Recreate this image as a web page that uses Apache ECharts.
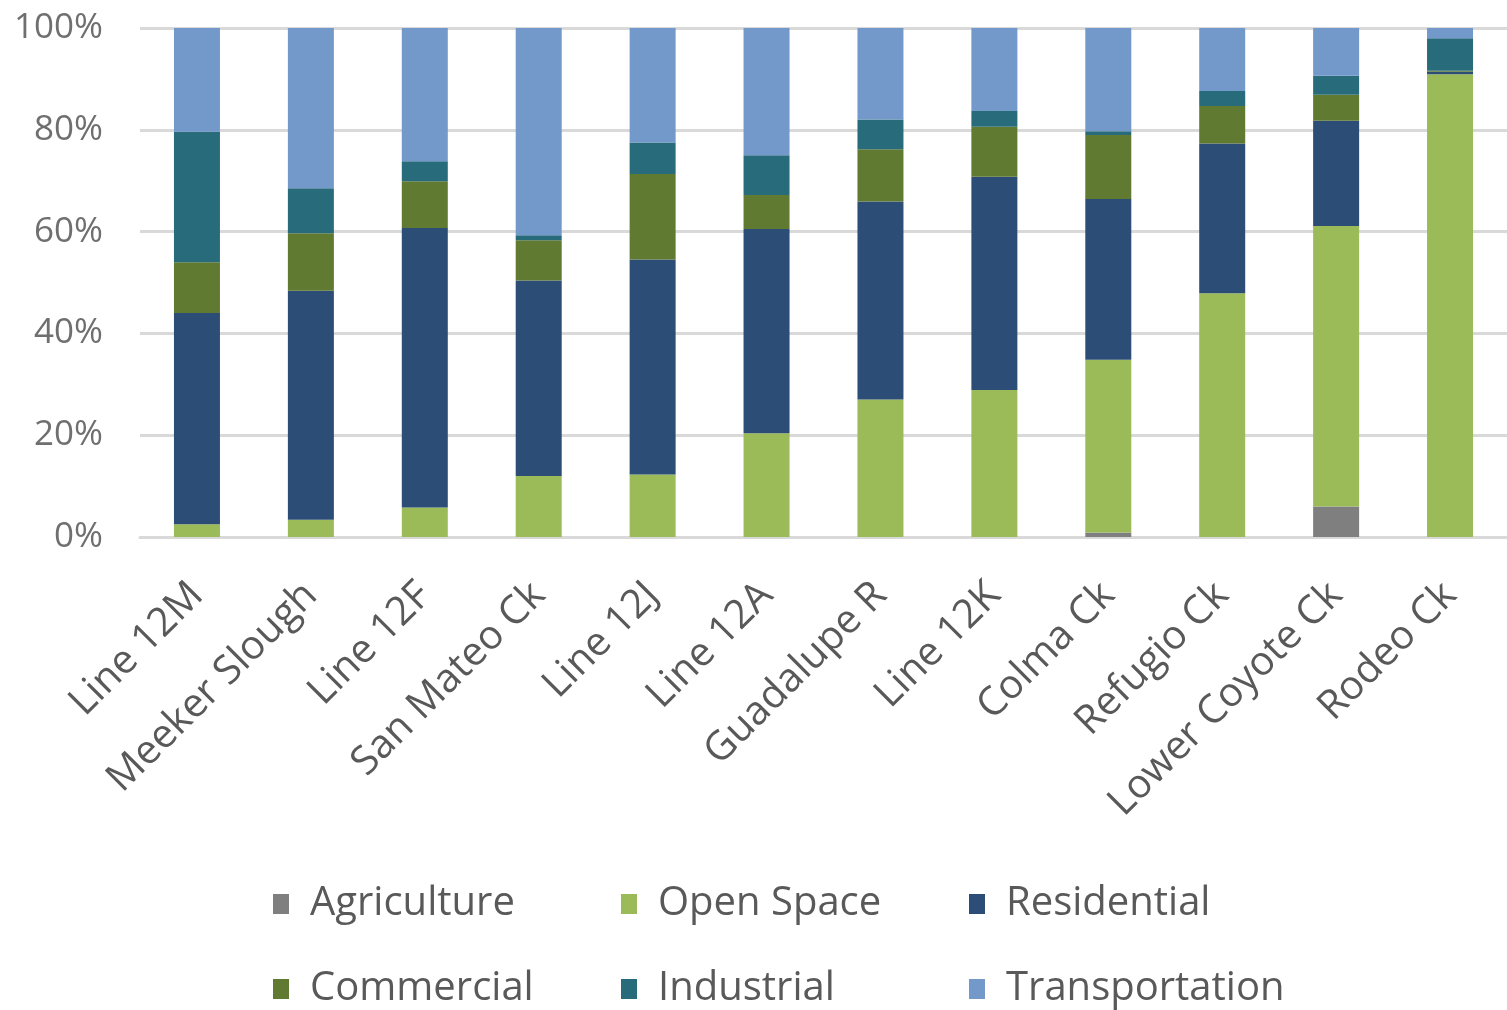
<!DOCTYPE html>
<html>
<head>
<meta charset="utf-8">
<script src="https://cdn.jsdelivr.net/npm/echarts@6/dist/echarts.min.js"></script>
<style>
  html, body { margin: 0; padding: 0; background: #ffffff; }
  #chart { width: 1507px; height: 1010px; }
</style>
</head>
<body>
<div id="chart"></div>
<script>
// Land use share (%) by watershed
const categories = ['Line 12M', 'Meeker Slough', 'Line 12F', 'San Mateo Ck', 'Line 12J', 'Line 12A',
  'Guadalupe R', 'Line 12K', 'Colma Ck', 'Refugio Ck', 'Lower Coyote Ck', 'Rodeo Ck'];

const agriculture    = [0, 0, 0, 0, 0, 0, 0, 0, 0.9, 0, 6.0, 0];
const openSpace      = [2.5, 3.4, 5.8, 12.0, 12.3, 20.4, 27.0, 28.9, 33.9, 47.9, 55.1, 90.9];
const residential    = [41.5, 45.0, 54.9, 38.4, 42.2, 40.1, 38.9, 41.9, 31.6, 29.4, 20.7, 0.5];
const commercial     = [10.0, 11.3, 9.2, 7.9, 16.8, 6.7, 10.3, 9.8, 12.6, 7.4, 5.1, 0.2];
const industrial     = [25.6, 8.8, 3.9, 1.0, 6.2, 7.8, 5.8, 3.1, 0.7, 2.9, 3.7, 6.4];
const transportation = [20.4, 31.5, 26.2, 40.7, 22.5, 25.0, 18.0, 16.3, 20.3, 12.4, 9.4, 2.0];

const yTicks = [0, 20, 40, 60, 80, 100];

const seriesDefs = [
  { name: 'Agriculture',    data: agriculture,    color: '#7f7f7f' },
  { name: 'Open Space',     data: openSpace,      color: '#9bbb59' },
  { name: 'Residential',    data: residential,    color: '#2c4d75' },
  { name: 'Commercial',     data: commercial,     color: '#617a31' },
  { name: 'Industrial',     data: industrial,     color: '#286c7c' },
  { name: 'Transportation', data: transportation, color: '#7399ca' }
];

const FONT = '"Open Sans", "Noto Sans", sans-serif';
const TEXT = '#595959';

// legend laid out as a 3 x 2 table
const legendCols = [273, 621, 969];
const legendRows = [884, 969];
const legends = seriesDefs.map((s, i) => ({
  data: [s.name],
  left: legendCols[i % 3],
  top: legendRows[Math.floor(i / 3)],
  orient: 'horizontal',
  icon: 'rect',
  itemWidth: 16,
  itemHeight: 20,
  selectedMode: false,
  padding: 0,
  textStyle: { fontFamily: FONT, fontSize: 40, color: TEXT, padding: [0, 0, 0, 16] }
}));

const chart = echarts.init(document.getElementById('chart'), null, { renderer: 'canvas' });
chart.setOption({
  backgroundColor: '#ffffff',
  animation: false,
  color: seriesDefs.map(s => s.color),
  legend: legends,
  grid: { left: 140, top: 28, width: 1385, height: 509, containLabel: false },
  xAxis: {
    type: 'category',
    data: categories,
    axisLine: { show: true, lineStyle: { color: '#d9d9d9', width: 3 } },
    axisTick: { show: false },
    axisLabel: {
      interval: 0,
      rotate: 45,
      margin: 52,
      fontFamily: FONT,
      fontSize: 40,
      color: TEXT
    }
  },
  yAxis: {
    type: 'value',
    min: yTicks[0],
    max: yTicks[yTicks.length - 1],
    interval: 20,
    axisLine: { show: false },
    axisTick: { show: false },
    splitLine: { lineStyle: { color: '#d9d9d9', width: 3 } },
    axisLabel: {
      margin: 37,
      fontFamily: FONT,
      fontSize: 35,
      color: '#6f6f6f',
      formatter: '{value}%'
    }
  },
  series: seriesDefs.map(s => ({
    name: s.name,
    type: 'bar',
    stack: 'total',
    barWidth: 46,
    data: s.data,
    itemStyle: { color: s.color }
  }))
});
</script>
</body>
</html>
